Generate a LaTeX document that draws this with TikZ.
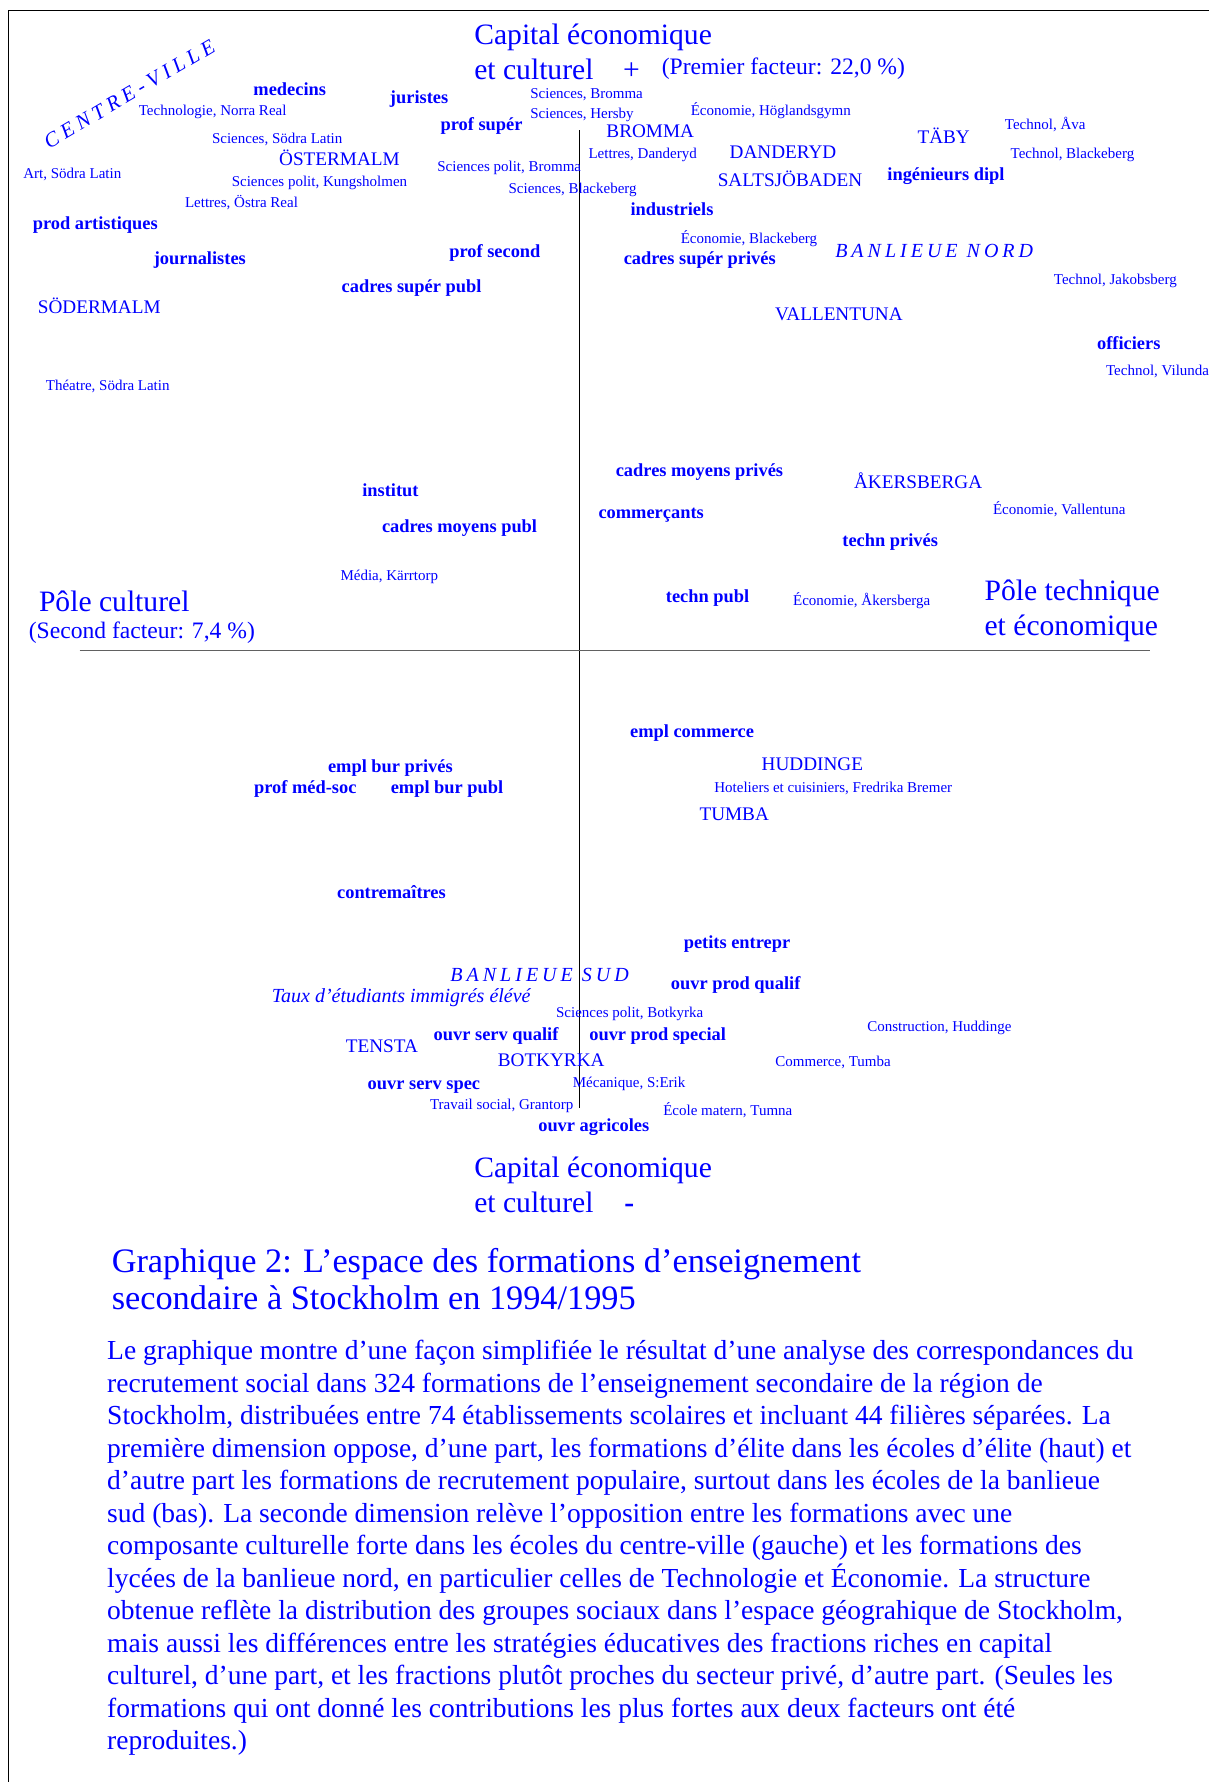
\documentclass[tikz,border=0pt]{standalone}
\usepackage{fontspec}
\setmainfont{Liberation Serif}
\newfontfamily\zonefont{Liberation Serif}[LetterSpace=20]
\newfontfamily\villefont{Liberation Serif}[LetterSpace=23]
\usetikzlibrary{positioning}

\begin{document}
\begin{tikzpicture}[x=0.5682pt,y=-0.5682pt,
            lbl/.style={anchor=west,inner sep=0pt,text=blue,text height=.8em,text depth=.15em},
            occ/.style={lbl,font=\fontsize{9.2}{11}\selectfont\bfseries},
            dist/.style={lbl,font=\fontsize{9.6}{11.5}\selectfont},
            ecole/.style={lbl,font=\fontsize{7.5}{9}\selectfont},
            pole/.style={lbl,font=\fontsize{14.8}{17.6}\selectfont},
            facteur/.style={lbl,font=\fontsize{11.8}{14}\selectfont},
            zone/.style={lbl,font=\zonefont\fontsize{10}{12}\selectfont\itshape},
            texte/.style={anchor=north west,inner sep=0pt,text=blue,align=left}]
            \useasboundingbox (0,0) rectangle (1064,1568);
            \draw[line width=0.5pt] (1064,8.8) -- (7.3,8.8) -- (7.3,1568);
            \coordinate (axN) at (510,114.5);
            \coordinate (axS) at (510,975);
            \coordinate (axW) at (70,572.6);
            \coordinate (axE) at (1012,572.6);
            \draw[line width=0.45pt] (axN) -- (axS);
            \draw[line width=0.7pt, black!62] (axW) -- (axE);

            \node[pole] (capH1) at (417,33) {Capital économique};
            \node[pole] (capH2) [below=17.5pt of capH1.west, anchor=west] {et culturel};
            \node[pole] (plus) at (548,64) {+};
            \node[facteur] (fact1) at (582,59.5) {(Premier facteur: 22,0 \%)};
            \node[pole] (poleC) at (34,532.4) {Pôle culturel};
            \node[facteur] (fact2) at (25,556.4) {(Second facteur: 7,4 \%)};
            \node[pole] (poleT1) at (866,522.7) {Pôle technique};
            \node[pole] (poleT2) [below=17.5pt of poleT1.west, anchor=west] {et économique};
            \node[pole] (capB1) at (417,1030.2) {Capital économique};
            \node[pole] (capB2) [below=17.5pt of capB1.west, anchor=west] {et culturel};
            \node[pole] (moins) at (549,1061) {\textbf{-}};

            \node[zone, font=\villefont\fontsize{10.5}{12}\selectfont\itshape, anchor=center, rotate=30.5] (centre) at (114,83) {CENTRE-VILLE};
            \node[zone] (nord) at (734.6,220.6) {BANLIEUE NORD};
            \node[zone] (sud) at (396,858) {BANLIEUE SUD};
            \node[lbl, font=\fontsize{10}{12}\selectfont\itshape] (taux) at (238.9,876.5) {Taux d’étudiants immigrés élévé};

            \node[occ] (medecins) at (222.7,78.6) {medecins};
            \node[occ] (juristes) at (342.8,85.1) {juristes};
            \node[occ] (profsup) at (387.3,109.1) {prof supér};
            \node[occ] (ingdipl) at (780.5,153.1) {ingénieurs dipl};
            \node[occ] (industriels) at (554.5,184.2) {industriels};
            \node[occ] (prodart) at (28.5,196.5) {prod artistiques};
            \node[occ] (profsec) at (395,220.6) {prof second};
            \node[occ] (journalistes) at (135,227.3) {journalistes};
            \node[occ] (cadsuppriv) at (548.5,227.3) {cadres supér privés};
            \node[occ] (cadsuppubl) at (300.3,251.7) {cadres supér publ};
            \node[occ] (officiers) at (965,302.1) {officiers};
            \node[occ] (cadmoypriv) at (541.5,413.6) {cadres moyens privés};
            \node[occ] (institut) at (318.4,431.2) {institut};
            \node[occ] (commercants) at (526.3,450.3) {commerçants};
            \node[occ] (cadmoypubl) at (335.8,462.9) {cadres moyens publ};
            \node[occ] (technpriv) at (740.9,475.2) {techn privés};
            \node[occ] (technpubl) at (585.6,524.5) {techn publ};
            \node[occ] (emplcom) at (554.1,643) {empl commerce};
            \node[occ] (emplburpriv) at (288.3,674.1) {empl bur privés};
            \node[occ] (profmed) at (223.2,692.3) {prof méd-soc};
            \node[occ] (emplburpubl) at (343.5,692.3) {empl bur publ};
            \node[occ] (contrem) at (296.3,785.3) {contremaîtres};
            \node[occ] (petitsent) at (601.3,828.7) {petits entrepr};
            \node[occ] (ouvrprodq) at (590,864.8) {ouvr prod qualif};
            \node[occ] (ouvrservq) at (381.3,909.4) {ouvr serv qualif};
            \node[occ] (ouvrprods) at (518.2,909.4) {ouvr prod special};
            \node[occ] (ouvrservs) at (323.2,952.8) {ouvr serv spec};
            \node[occ] (ouvragri) at (473.3,989.5) {ouvr agricoles};

            \node[dist] (bromma) at (533.3,115) {BROMMA};
            \node[dist] (taby) at (807,120.9) {TÄBY};
            \node[dist] (danderyd) at (641.7,133.5) {DANDERYD};
            \node[dist] (ostermalm) at (245.3,139.9) {ÖSTERMALM};
            \node[dist] (saltsjo) at (631.2,158.4) {SALTSJÖBADEN};
            \node[dist] (sodermalm) at (33,269.9) {SÖDERMALM};
            \node[dist] (vallentuna) at (681.6,276.3) {VALLENTUNA};
            \node[dist] (akersberga) at (751.2,423.9) {ÅKERSBERGA};
            \node[dist] (huddinge) at (669.9,672.4) {HUDDINGE};
            \node[dist] (tumba) at (615.2,716.4) {TUMBA};
            \node[dist] (tensta) at (304,920.6) {TENSTA};
            \node[dist] (botkyrka) at (437.7,932.9) {BOTKYRKA};

            \node[ecole] (sciBro) at (466.3,81.3) {Sciences, Bromma};
            \node[ecole] (techNR) at (121.8,96.2) {Technologie, Norra Real};
            \node[ecole] (ecoHog) at (607.5,96.2) {Économie, Höglandsgymn};
            \node[ecole] (sciHer) at (466.3,98.9) {Sciences, Hersby};
            \node[ecole] (techAva) at (883.9,108.5) {Technol, Åva};
            \node[ecole] (sciSL) at (186.2,120.9) {Sciences, Södra Latin};
            \node[ecole] (lettDan) at (517.5,133.5) {Lettres, Danderyd};
            \node[ecole] (techBla) at (888.9,133.5) {Technol, Blackeberg};
            \node[ecole] (scpBro) at (384.5,145.2) {Sciences polit, Bromma};
            \node[ecole] (artSL) at (20.2,151.7) {Art, Södra Latin};
            \node[ecole] (scpKun) at (203.6,158.7) {Sciences polit, Kungsholmen};
            \node[ecole] (sciBla) at (447.2,164.8) {Sciences, Blackeberg};
            \node[ecole] (lettOR) at (162.5,177.2) {Lettres, Östra Real};
            \node[ecole] (ecoBla) at (598.7,208.9) {Économie, Blackeberg};
            \node[ecole] (techJak) at (927,245) {Technol, Jakobsberg};
            \node[ecole] (techVil) at (972.9,325) {Technol, Vilunda};
            \node[ecole] (theSL) at (40,338.2) {Théatre, Södra Latin};
            \node[ecole] (ecoVal) at (873.4,447.4) {Économie, Vallentuna};
            \node[ecole] (mediaKar) at (299.3,505.2) {Média, Kärrtorp};
            \node[ecole] (ecoAke) at (697.5,527.4) {Économie, Åkersberga};
            \node[ecole] (hotFB) at (628.2,691.7) {Hoteliers et cuisiniers, Fredrika Bremer};
            \node[ecole] (scpBot) at (489,889.4) {Sciences polit, Botkyrka};
            \node[ecole] (consHud) at (762.8,901.5) {Construction, Huddinge};
            \node[ecole] (comTum) at (682,932.3) {Commerce, Tumba};
            \node[ecole] (mecSE) at (503.7,951) {Mécanique, S:Erik};
            \node[ecole] (travGr) at (378.1,970.1) {Travail social, Grantorp};
            \node[ecole] (ecoleTum) at (583.3,975.4) {École matern, Tumna};

            \node[texte, font=\fontsize{17.15}{18.4}\selectfont] (titre) at (98,1098) {Graphique 2: L’espace des formations d’enseignement\\secondaire à Stockholm en 1994/1995};
            \node[texte, font=\fontsize{13.75}{16.25}\selectfont] (legende) at (94,1179) {Le graphique montre d’une façon simplifiée le résultat d’une analyse des correspondances du\\
recrutement social dans 324 formations de l’enseignement secondaire de la région de\\
Stockholm, distribuées entre 74 établissements scolaires et incluant 44 filières séparées. La\\
première dimension oppose, d’une part, les formations d’élite dans les écoles d’élite (haut) et\\
d’autre part les formations de recrutement populaire, surtout dans les écoles de la banlieue\\
sud (bas). La seconde dimension relève l’opposition entre les formations avec une\\
composante culturelle forte dans les écoles du centre-ville (gauche) et les formations des\\
lycées de la banlieue nord, en particulier celles de Technologie et Économie. La structure\\
obtenue reflète la distribution des groupes sociaux dans l’espace géograhique de Stockholm,\\
mais aussi les différences entre les stratégies éducatives des fractions riches en capital\\
culturel, d’une part, et les fractions plutôt proches du secteur privé, d’autre part. (Seules les\\
formations qui ont donné les contributions les plus fortes aux deux facteurs ont été\\
reproduites.)};
        \end{tikzpicture}
\end{document}
